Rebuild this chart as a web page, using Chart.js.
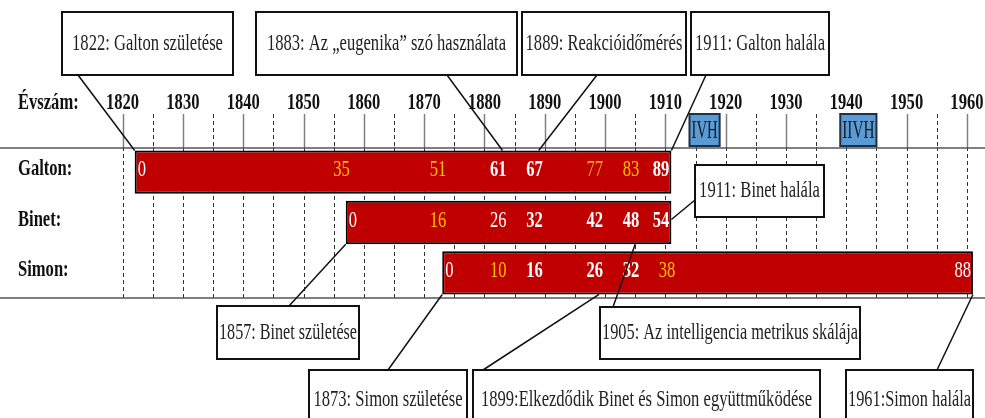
<!DOCTYPE html>
<html>
<head>
<meta charset="utf-8">
<script src="https://cdn.jsdelivr.net/npm/chart.js@4.4.0/dist/chart.umd.min.js"></script>
<style>
  body { margin: 0; background: #fff; }
  canvas { display: block; }
</style>
</head>
<body>
<canvas id="canvas" width="985" height="418"></canvas>
<script>
// rows and life spans
const people = ['Galton:', 'Binet:', 'Simon:'];
const lifeSpans = [[1822, 1911], [1857, 1911], [1873, 1961]];

// year axis
const yearTicks = [1820, 1830, 1840, 1850, 1860, 1870, 1880, 1890, 1900, 1910, 1920, 1930, 1940, 1950, 1960];
const gridYears = [1820, 1825, 1830, 1835, 1840, 1845, 1850, 1855, 1860, 1865, 1870, 1875, 1880, 1885, 1890, 1895, 1900, 1905, 1910, 1915, 1920, 1925, 1930, 1935, 1940, 1945, 1950, 1955, 1960];

// ages written on the bars
const galtonYears = [1822, 1857, 1873, 1883, 1889, 1899, 1905, 1911];
const galtonAges = [0, 35, 51, 61, 67, 77, 83, 89];
const binetYears = [1857, 1873, 1883, 1889, 1899, 1905, 1911];
const binetAges = [0, 16, 26, 32, 42, 48, 54];
const simonYears = [1873, 1883, 1889, 1899, 1905, 1911, 1961];
const simonAges = [0, 10, 16, 26, 32, 38, 88];

// world wars
const wars = ['IVH', 'IIVH'];
const warSpans = [[1914, 1919], [1939, 1945]];

// label styles (W white, Y yellow, O orange; b bold)
const galtonStyle = ['W', 'Y', 'Y', 'Wb', 'Wb', 'O', 'Y', 'Wb'];
const binetStyle = ['W', 'Y', 'W', 'Wb', 'Wb', 'Wb', 'Wb'];
const simonStyle = ['W', 'Y', 'Wb', 'Wb', 'Wb', 'Y', 'W'];

const ageRows = [
  { years: galtonYears, ages: galtonAges, style: galtonStyle },
  { years: binetYears, ages: binetAges, style: binetStyle },
  { years: simonYears, ages: simonAges, style: simonStyle }
];

// callout boxes: box = [x, y, w, h], from = leader start
const callouts = [
  { text: '1822: Galton születése', row: 0, year: 1822, edge: 'top', box: [62, 12, 171, 63], from: [78, 75] },
  { text: '1883: Az \u201eeugenika\u201d szó használata', row: 0, year: 1883, edge: 'top', box: [256, 12, 261, 63], from: [447, 75] },
  { text: '1889: Reakcióidőmérés', row: 0, year: 1889, edge: 'top', box: [522, 12, 164, 63], from: [597, 75] },
  { text: '1911: Galton halála', row: 0, year: 1911, edge: 'top', box: [691, 12, 138, 63], from: [706, 75] },
  { text: '1911: Binet halála', row: 1, year: 1911, edge: 'end', box: [695, 165, 129, 52], from: [695, 200] },
  { text: '1857: Binet születése', row: 1, year: 1857, edge: 'bottom', box: [217, 306, 142, 53], from: [289, 306] },
  { text: '1905: Az intelligencia metrikus skálája', row: 1, year: 1905, edge: 'bottom', box: [600, 307, 260, 52], from: [613, 307] },
  { text: '1873: Simon születése', row: 2, year: 1873, edge: 'bottom', box: [309, 370, 158, 62], from: [388, 370] },
  { text: '1899:Elkezdődik Binet és Simon együttműködése', row: 2, year: 1899, edge: 'bottom', box: [473, 370, 347, 62], from: [483, 370] },
  { text: '1961:Simon halála', row: 2, year: 1961, edge: 'bottom', box: [846, 370, 127, 62], from: [937, 370] }
];

const SERIF = "'Liberation Serif', 'Times New Roman', serif";
const SQUEEZE = 0.69;

function drawText(ctx, text, x, y, opts) {
  ctx.save();
  ctx.font = (opts.bold ? 'bold ' : '') + opts.size + 'px ' + SERIF;
  ctx.fillStyle = opts.color || '#111';
  ctx.textBaseline = opts.baseline || 'alphabetic';
  ctx.textAlign = opts.align || 'left';
  let sx = SQUEEZE;
  if (opts.maxWidth) {
    const w = ctx.measureText(text).width;
    sx = Math.min(sx, opts.maxWidth / w);
  }
  ctx.translate(x, y);
  ctx.scale(sx, 1);
  ctx.fillText(text, 0, 0);
  ctx.restore();
}

const timelinePlugin = {
  id: 'timeline',
  beforeDatasetsDraw(chart) {
    const ctx = chart.ctx;
    const xs = chart.scales.x;
    const area = chart.chartArea;
    const bandTop = area.top - 33;
    ctx.save();
    gridYears.forEach(function (yr) {
      const x = Math.round(xs.getPixelForValue(yr)) + 0.5;
      const decade = yr % 10 === 0;
      // upper band
      ctx.beginPath();
      if (decade) {
        ctx.setLineDash([]);
        ctx.strokeStyle = '#808080';
        ctx.lineWidth = 1.5;
      } else {
        ctx.setLineDash([4, 3]);
        ctx.strokeStyle = '#333';
        ctx.lineWidth = 1;
      }
      ctx.moveTo(x, bandTop);
      ctx.lineTo(x, area.top);
      ctx.stroke();
      // bar band
      ctx.beginPath();
      ctx.setLineDash([4, 3]);
      ctx.strokeStyle = '#333';
      ctx.lineWidth = 1;
      ctx.moveTo(x, area.top);
      ctx.lineTo(x, area.bottom);
      ctx.stroke();
    });
    ctx.setLineDash([]);
    ctx.strokeStyle = '#555';
    ctx.lineWidth = 1.5;
    ctx.beginPath();
    ctx.moveTo(0, area.top + 1);
    ctx.lineTo(chart.width, area.top + 1);
    ctx.moveTo(0, area.bottom);
    ctx.lineTo(chart.width, area.bottom);
    ctx.stroke();

    // war boxes
    warSpans.forEach(function (span, i) {
      const x1 = xs.getPixelForValue(span[0]);
      const x2 = xs.getPixelForValue(span[1]);
      ctx.fillStyle = '#5B9BD5';
      ctx.fillRect(x1, bandTop, x2 - x1, area.top - bandTop - 1);
      ctx.strokeStyle = '#1F2F45';
      ctx.lineWidth = 2;
      ctx.strokeRect(x1, bandTop, x2 - x1, area.top - bandTop - 1);
      drawText(ctx, wars[i], (x1 + x2) / 2, bandTop + 17, { size: 25, align: 'center', baseline: 'middle', color: '#1a1a1a', maxWidth: x2 - x1 - 4 });
    });
    ctx.restore();
  },
  afterDatasetsDraw(chart) {
    const ctx = chart.ctx;
    const xs = chart.scales.x;
    const area = chart.chartArea;
    const bars = chart.getDatasetMeta(0).data;

    // year labels
    drawText(ctx, 'Évszám:', 18, area.top - 38, { size: 24, bold: true });
    yearTicks.forEach(function (yr) {
      drawText(ctx, String(yr), xs.getPixelForValue(yr), area.top - 38, { size: 24, bold: true, align: 'center' });
    });

    // row labels
    people.forEach(function (name, i) {
      drawText(ctx, name, 18, bars[i].y + 3, { size: 24, bold: true });
    });

    // ages
    const colors = { W: '#ffffff', Y: '#FFC000', O: '#EFA32A' };
    ageRows.forEach(function (row, i) {
      const yBase = bars[i].y + 4;
      const barStart = Math.min(bars[i].x, bars[i].base);
      const barEnd = Math.max(bars[i].x, bars[i].base);
      row.years.forEach(function (yr, j) {
        const st = row.style[j];
        const x = xs.getPixelForValue(yr);
        const first = j === 0;
        const px = first ? Math.max(x, barStart + 3) : Math.min(x + 4, barEnd - 2);
        drawText(ctx, String(row.ages[j]), px, yBase, {
          size: 24, bold: st.indexOf('b') >= 0, color: colors[st[0]], align: first ? 'left' : 'right'
        });
      });
    });

    // callouts
    ctx.save();
    callouts.forEach(function (c) {
      const bar = bars[c.row];
      let tx = xs.getPixelForValue(c.year);
      let ty;
      if (c.edge === 'top') ty = bar.y - bar.height / 2;
      else if (c.edge === 'bottom') ty = bar.y + bar.height / 2;
      else ty = bar.y - 3;
      ctx.strokeStyle = '#111';
      ctx.lineWidth = 1.5;
      ctx.beginPath();
      ctx.moveTo(c.from[0], c.from[1]);
      ctx.lineTo(tx, ty);
      ctx.stroke();
    });
    callouts.forEach(function (c) {
      const b = c.box;
      ctx.fillStyle = '#fff';
      ctx.fillRect(b[0], b[1], b[2], b[3]);
      ctx.strokeStyle = '#111';
      ctx.lineWidth = 2;
      ctx.strokeRect(b[0], b[1], b[2], b[3]);
      const cy = b[3] > 58 && b[1] > 300 ? b[1] + 30 : b[1] + b[3] / 2;
      drawText(ctx, c.text, b[0] + b[2] / 2, cy, { size: 24, align: 'center', baseline: 'middle', color: '#222', maxWidth: b[2] - 4 });
    });
    ctx.restore();
  }
};

const ctx = document.getElementById('canvas').getContext('2d');
const myChart = new Chart(ctx, {
  type: 'bar',
  data: {
    labels: people,
    datasets: [{
      data: lifeSpans,
      backgroundColor: '#C00000',
      borderColor: '#000',
      borderWidth: 2,
      borderSkipped: false,
      barPercentage: 0.86,
      categoryPercentage: 1
    }]
  },
  options: {
    indexAxis: 'y',
    responsive: false,
    animation: false,
    devicePixelRatio: 1,
    layout: { padding: { left: 8, right: 0, top: 147, bottom: 120 } },
    plugins: { legend: { display: false }, tooltip: { enabled: false } },
    scales: {
      x: { type: 'linear', min: 1801, max: 1963, display: false },
      y: { type: 'category', display: false }
    }
  },
  plugins: [timelinePlugin]
});
</script>
</body>
</html>
